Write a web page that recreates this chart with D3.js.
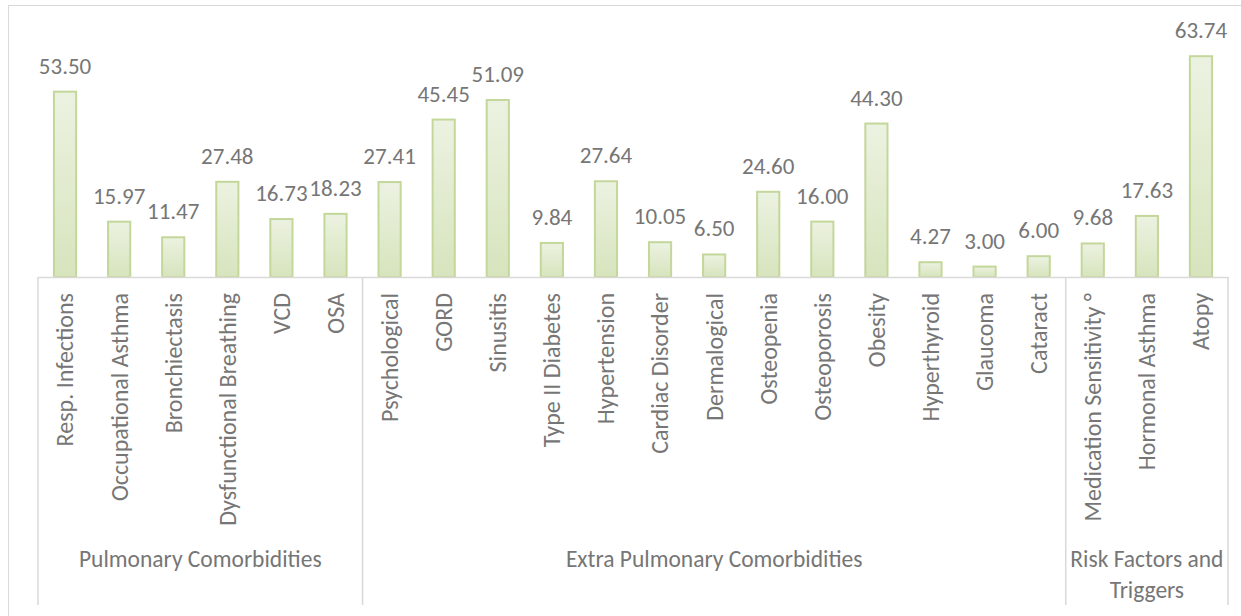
<!DOCTYPE html>
<html><head><meta charset="utf-8">
<script src="https://cdn.jsdelivr.net/npm/d3@7"></script>
<style>
html,body{margin:0;padding:0;background:#fff;}
svg{display:block;}
text{font-family:Carlito,"Open Sans",sans-serif;fill:#767676;}
</style></head>
<body>
<svg id="chart" width="1241" height="616"></svg>
<script>
const categories = ["Resp. Infections","Occupational Asthma","Bronchiectasis","Dysfunctional Breathing","VCD","OSA",
  "Psychological","GORD","Sinusitis","Type II Diabetes","Hypertension","Cardiac Disorder","Dermalogical","Osteopenia","Osteoporosis","Obesity","Hyperthyroid","Glaucoma","Cataract",
  "Medication Sensitivity °","Hormonal Asthma","Atopy"];
const values = [53.50,15.97,11.47,27.48,16.73,18.23,
  27.41,45.45,51.09,9.84,27.64,10.05,6.50,24.60,16.00,44.30,4.27,3.00,6.00,
  9.68,17.63,63.74];
const groupNames = [["Pulmonary Comorbidities"],["Extra Pulmonary Comorbidities"],["Risk Factors and","Triggers"]];
const groupSizes = [6,13,3];

const svg = d3.select("#chart");
const left = 38, right = 1228, base = 277;
const x = d3.scaleBand().domain(categories).range([left,right]).padding(0);
const y = d3.scaleLinear().domain([0,70]).range([base, base - 70*3.464]);

// outer border
svg.append("rect").attr("x",8.5).attr("y",5.5).attr("width",1300).attr("height",700)
  .attr("fill","none").attr("stroke","#d9d9d9");

const defs = svg.append("defs");
const g = defs.append("linearGradient").attr("id","barGrad").attr("x1",0).attr("y1",0).attr("x2",0).attr("y2",1);
g.append("stop").attr("offset","0%").attr("stop-color","#ecf2e1");
g.append("stop").attr("offset","100%").attr("stop-color","#d7e4bd");

const bw = x.bandwidth()*0.41;
svg.append("g").selectAll("rect").data(categories).join("rect")
  .attr("x",d=>x(d)+x.bandwidth()/2-bw/2)
  .attr("y",(d,i)=>y(values[i]))
  .attr("width",bw)
  .attr("height",(d,i)=>base-y(values[i]))
  .attr("fill","url(#barGrad)")
  .attr("stroke","#c4d79b").attr("stroke-width",2);

// value labels
svg.append("g").selectAll("text").data(categories).join("text")
  .attr("x",d=>x(d)+x.bandwidth()/2)
  .attr("y",(d,i)=>y(values[i])-18)
  .attr("text-anchor","middle")
  .style("font-size","23px")
  .text((d,i)=>values[i].toFixed(2));

// axis line
const axis = svg.append("g").attr("transform",`translate(0,${base})`)
  .call(d3.axisBottom(x).tickSize(0).tickPadding(0));
axis.select(".domain").attr("stroke","#d9d9d9").attr("stroke-width",1.5);
axis.selectAll(".tick text")
  .attr("transform","rotate(-90)")
  .attr("x",-16).attr("y",0).attr("dy","0.35em")
  .attr("text-anchor","end")
  .style("font-size","24px").style("font-family",'Carlito,"Open Sans",sans-serif').attr("fill","#767676");

// group separators and labels
let idx = 0;
const bounds = [left];
groupSizes.forEach(n=>{ idx += n; bounds.push(idx<categories.length ? x(categories[idx]) : right); });
bounds.forEach(bx=>{
  svg.append("line").attr("x1",bx).attr("x2",bx).attr("y1",base).attr("y2",605)
    .attr("stroke","#d9d9d9").attr("stroke-width",1.5);
});
groupNames.forEach((lines,i)=>{
  const cx = (bounds[i]+bounds[i+1])/2;
  const t = svg.append("text").attr("x",cx).attr("y",567).attr("text-anchor","middle").style("font-size","23.5px");
  lines.forEach((l,j)=>t.append("tspan").attr("x",cx).attr("dy",j===0?0:31).text(l));
});
</script>
</body></html>
